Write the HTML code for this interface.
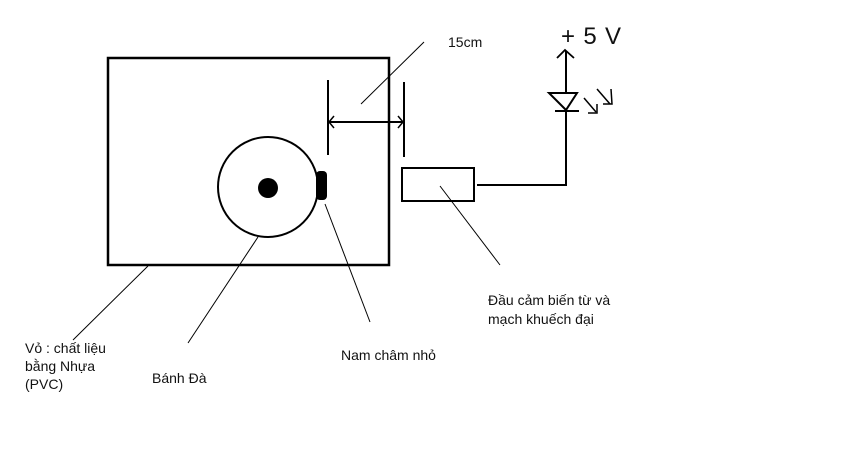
<!DOCTYPE html>
<html><head><meta charset="utf-8"><style>
html,body{margin:0;padding:0;background:#fff;}
svg{display:block;}
text{font-family:"Liberation Sans",sans-serif;font-size:14px;fill:#111;}
</style></head><body>
<svg width="854" height="455" viewBox="0 0 854 455" xmlns="http://www.w3.org/2000/svg">
<rect width="854" height="455" fill="#fff"/>
<rect x="108" y="58" width="281" height="207" fill="none" stroke="#000" stroke-width="2.5"/>
<circle cx="268" cy="187" r="50" fill="none" stroke="#000" stroke-width="2"/>
<circle cx="268" cy="188" r="10" fill="#000"/>
<rect x="316" y="171" width="11" height="29" rx="4" fill="#000"/>
<line x1="328" y1="80" x2="328" y2="155" stroke="#000" stroke-width="2"/>
<line x1="404" y1="82" x2="404" y2="157" stroke="#000" stroke-width="2"/>
<line x1="328" y1="122" x2="404" y2="122" stroke="#000" stroke-width="2"/>
<polyline points="334,116 329,122 334,128" fill="none" stroke="#000" stroke-width="1.5"/>
<polyline points="398,116 403,122 398,128" fill="none" stroke="#000" stroke-width="1.5"/>
<line x1="361" y1="104" x2="424" y2="42" stroke="#000" stroke-width="1"/>
<text x="448" y="47">15cm</text>
<rect x="402" y="168" width="72" height="33" fill="none" stroke="#000" stroke-width="2"/>
<polyline points="477,185 566,185 566,110" fill="none" stroke="#000" stroke-width="2"/>
<polygon points="549,93 577,93 566,110" fill="none" stroke="#000" stroke-width="2"/>
<line x1="555" y1="111" x2="579" y2="111" stroke="#000" stroke-width="2"/>
<line x1="566" y1="93" x2="566" y2="51" stroke="#000" stroke-width="2"/>
<polyline points="557,58 565,50 574,58" fill="none" stroke="#000" stroke-width="1.8"/>
<g stroke="#000" stroke-width="1.5" fill="none">
<line x1="584" y1="98" x2="596" y2="112"/><polyline points="588,113 597,113 597,104"/>
<line x1="597" y1="89" x2="610" y2="104"/><polyline points="611,89 612,104 603,104"/>
</g>
<text x="561" y="44" textLength="60" lengthAdjust="spacing" style="font-size:24px">+ 5 V</text>
<g stroke="#000" stroke-width="1">
<line x1="148" y1="266" x2="73" y2="340"/>
<line x1="258" y1="237" x2="188" y2="343"/>
<line x1="325" y1="204" x2="370" y2="322"/>
<line x1="440" y1="186" x2="500" y2="265"/>
</g>
<text x="25" y="353">Vỏ : chất liệu</text>
<text x="25" y="371">bằng Nhựa</text>
<text x="25" y="389">(PVC)</text>
<text x="152" y="383">Bánh Đà</text>
<text x="341" y="360">Nam châm nhỏ</text>
<text x="488" y="305">Đầu cảm biến từ và</text>
<text x="488" y="324">mạch khuếch đại</text>
</svg>
</body></html>
